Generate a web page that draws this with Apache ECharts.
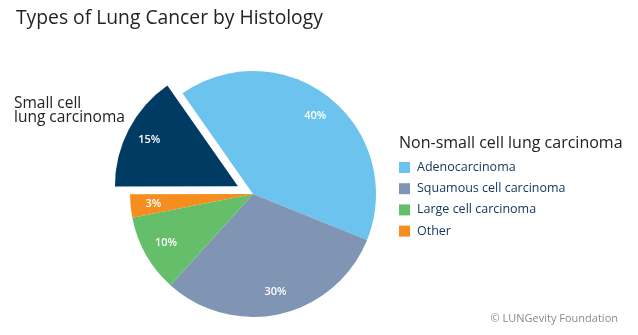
<!DOCTYPE html>
<html>
<head>
<meta charset="utf-8">
<script src="https://cdn.jsdelivr.net/npm/echarts@6/dist/echarts.min.js"></script>
<style>
  html, body { margin: 0; padding: 0; background: #fff; }
  #chart { width: 638px; height: 335px; }
</style>
</head>
<body>
<div id="chart"></div>
<script>
// Histology categories, share of cases (%) and the one slice pulled out
const categories = ['Adenocarcinoma', 'Squamous cell carcinoma', 'Large cell carcinoma', 'Other', 'Small cell lung carcinoma'];
const values = [40, 30, 10, 3, 15];
const explodedCategory = 'Small cell lung carcinoma';
const legendCategories = ['Adenocarcinoma', 'Squamous cell carcinoma', 'Large cell carcinoma', 'Other'];
const palette = ['#6cc3ee', '#8095b3', '#65bf6a', '#f68d1f', '#003b64'];

const FONT = '"Open Sans", "Noto Sans", sans-serif';
const CENTER = [253, 194];
const R = 123;

function sliceData(transparent) {
  return categories.map((name, i) => ({
    name: name,
    value: values[i],
    selected: name === explodedCategory,
    itemStyle: { color: transparent ? 'rgba(0,0,0,0)' : palette[i] }
  }));
}

const chart = echarts.init(document.getElementById('chart'), null, { renderer: 'canvas' });

chart.setOption({
  animation: false,
  color: palette,
  title: [
    {
      text: 'Types of Lung Cancer by Histology',
      left: 16, top: 9, padding: 0,
      textStyle: { fontFamily: FONT, fontSize: 19.3, fontWeight: 'normal', color: '#222' }
    },
    {
      text: 'Small cell\nlung carcinoma',
      left: 14, top: 97, padding: 0,
      textStyle: { fontFamily: FONT, fontSize: 15.5, fontWeight: 'normal', color: '#222', lineHeight: 14 }
    },
    {
      text: 'Non-small cell lung carcinoma',
      left: 399, top: 135, padding: 0,
      textStyle: { fontFamily: FONT, fontSize: 16, fontWeight: 'normal', color: '#222' }
    },
    {
      text: '\u00a9 LUNGevity Foundation',
      right: 20, top: 313, padding: 0,
      textStyle: { fontFamily: FONT, fontSize: 11, fontWeight: 'normal', color: '#8a8a8a' }
    }
  ],
  legend: {
    data: legendCategories,
    orient: 'vertical',
    left: 399, top: 161, padding: 0,
    icon: 'rect',
    itemWidth: 11, itemHeight: 11,
    itemGap: 8.2,
    selectedMode: false,
    textStyle: { fontFamily: FONT, fontSize: 12.5, color: '#163a60', padding: [0, 0, 0, 2] }
  },
  series: [
    {
      type: 'pie',
      center: CENTER,
      radius: R,
      startAngle: 125,
      clockwise: true,
      selectedMode: 'single',
      selectedOffset: 17,
      avoidLabelOverlap: false,
      label: { show: false },
      labelLine: { show: false },
      emphasis: { disabled: true },
      itemStyle: { borderWidth: 0 },
      data: sliceData(false)
    },
    {
      // transparent ring that carries the percentage labels at ~78% of the radius
      type: 'pie',
      center: CENTER,
      radius: [71, R],
      startAngle: 125,
      clockwise: true,
      silent: true,
      selectedMode: 'single',
      selectedOffset: 17,
      avoidLabelOverlap: false,
      label: {
        show: true,
        position: 'inside',
        formatter: p => p.value + '%',
        fontFamily: FONT,
        fontSize: 11,
        fontWeight: 600,
        color: '#fff'
      },
      labelLine: { show: false },
      emphasis: { disabled: true },
      itemStyle: { borderWidth: 0 },
      data: sliceData(true)
    }
  ]
});
</script>
</body>
</html>
